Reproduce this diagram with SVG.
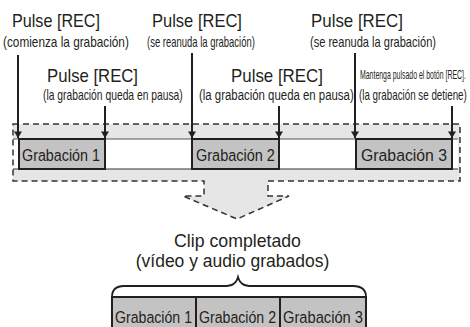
<svg xmlns="http://www.w3.org/2000/svg" width="470" height="327" viewBox="0 0 470 327">
<style>
text{font-family:"Liberation Sans",Arial,Helvetica,sans-serif;fill:#231f20}
.h{font-size:18px}
.s{font-size:14px}
.r{font-size:17px}
.box{fill:#c3c3c3;stroke:#231f20;stroke-width:2}
.arr{stroke:#231f20;stroke-width:2;fill:none}
.dash{fill:none;stroke:#333;stroke-width:1.5;stroke-dasharray:6 4}
</style>
<defs>
<marker id="ah" viewBox="0 0 8 10" refX="8" refY="5" markerWidth="3.5" markerHeight="4" orient="auto" markerUnits="strokeWidth">
<path d="M0,0 L8,5 L0,10 Z" fill="#231f20"/>
</marker>
</defs>
<rect width="470" height="327" fill="#fff"/>

<g id="timeline">
<path d="M13,124 H460 V181 H268 V196 H289 L237,219 L183,196 H204 V181 H13 Z" fill="#e6e6e6"/>
<rect x="13" y="139" width="445" height="30" fill="#fff"/>
<line x1="13" y1="139" x2="458" y2="139" stroke="#555" stroke-width="1.2"/>
<line x1="13" y1="169" x2="458" y2="169" stroke="#333" stroke-width="1.2"/>
<path class="dash" d="M13,124 H460 V181 H268 V196 H289 L237,219 L183,196 H204 V181 H13 Z"/>
</g>

<g id="rec1"><rect class="box" x="19" y="139" width="86" height="30"/><text class="r" transform="translate(22,161) scale(0.842,1)">Grabación 1</text></g>
<g id="rec2"><rect class="box" x="192" y="139" width="87" height="30"/><text class="r" transform="translate(196,161) scale(0.853,1)">Grabación 2</text></g>
<g id="rec3"><rect class="box" x="356" y="139" width="96" height="30"/><text class="r" transform="translate(361,161) scale(0.93,1)">Grabación 3</text></g>

<g id="label1"><text class="h" transform="translate(12,27) scale(0.898,1)">Pulse [REC]</text><text class="s" transform="translate(3,47) scale(0.843,1)">(comienza la grabación)</text></g>
<g id="label2"><text class="h" transform="translate(47,82) scale(0.929,1)">Pulse [REC]</text><text class="s" transform="translate(43,100) scale(0.737,1)">(la grabación queda en pausa)</text></g>
<g id="label3"><text class="h" transform="translate(152,27) scale(0.918,1)">Pulse [REC]</text><text class="s" transform="translate(147,47) scale(0.677,1)">(se reanuda la grabación)</text></g>
<g id="label4"><text class="h" transform="translate(231,82) scale(0.939,1)">Pulse [REC]</text><text class="s" transform="translate(199,100) scale(0.815,1)">(la grabación queda en pausa)</text></g>
<g id="label5"><text class="h" transform="translate(311,27) scale(0.939,1)">Pulse [REC]</text><text class="s" transform="translate(310,47) scale(0.79,1)">(se reanuda la grabación)</text></g>
<g id="label6"><text class="s" style="font-size:12.5px" transform="translate(360,79) scale(0.555,1)">Mantenga pulsado el botón [REC].</text><text class="s" transform="translate(359,100) scale(0.7,1)">(la grabación se detiene)</text></g>

<g id="connectors">
<line class="arr" x1="18" y1="55" x2="18" y2="138" marker-end="url(#ah)"/>
<line class="arr" x1="105" y1="106" x2="105" y2="138" marker-end="url(#ah)"/>
<line class="arr" x1="192" y1="53" x2="192" y2="138" marker-end="url(#ah)"/>
<line class="arr" x1="279" y1="106" x2="279" y2="138" marker-end="url(#ah)"/>
<line class="arr" x1="355" y1="53" x2="355" y2="138" marker-end="url(#ah)"/>
<line class="arr" x1="452" y1="106" x2="452" y2="138" marker-end="url(#ah)"/>
</g>

<g id="clip">
<text x="237.5" y="247" text-anchor="middle" style="font-size:17.7px">Clip completado</text>
<text x="232.5" y="267" text-anchor="middle" style="font-size:17.5px">(vídeo y audio grabados)</text>
<path d="M112,297 C112,290 115,286 124,286 H224 C232,286 236,284 238,277 C240,284 244,286 252,286 H353 C362,286 366,290 366,297" fill="none" stroke="#231f20" stroke-width="1.8"/>
</g>

<g id="clip1"><rect class="box" x="112" y="297" width="84" height="40"/><text class="r" transform="translate(115,323) scale(0.832,1)">Grabación 1</text></g>
<g id="clip2"><rect class="box" x="196" y="297" width="84" height="40"/><text class="r" transform="translate(199,323) scale(0.832,1)">Grabación 2</text></g>
<g id="clip3"><rect class="box" x="280" y="297" width="86" height="40"/><text class="r" transform="translate(283,323) scale(0.864,1)">Grabación 3</text></g>
</svg>
